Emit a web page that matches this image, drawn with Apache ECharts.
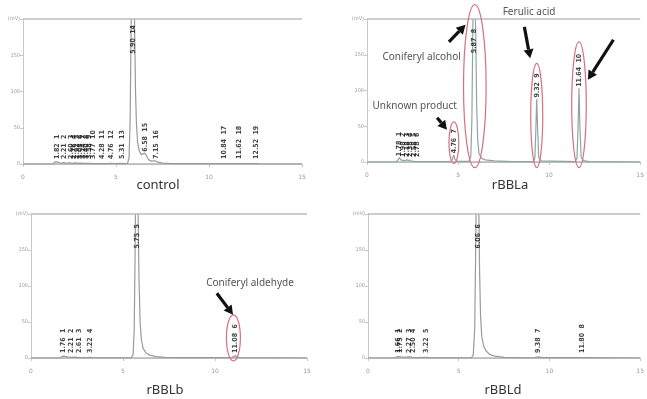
<!DOCTYPE html>
<html><head><meta charset="utf-8">
<script src="https://cdn.jsdelivr.net/npm/echarts@6/dist/echarts.min.js"></script>
<style>html,body{margin:0;padding:0;background:#fff}#c{width:647px;height:399px}</style>
</head><body><div id="c"></div>
<script>
// ---------- data ----------
const panelNames = ['control', 'rBBLa', 'rBBLb', 'rBBLd'];
const yUnit = 'mV';
const yMax = 200;
const xMax = 15;

// chromatogram traces [time (min), signal]
const ctrlTrace = [[0,0],[1.6,0],[1.72,3],[1.8,1.5],[1.9,2.5],[2.05,1],[2.2,2],[2.35,1],[2.5,1.5],[2.65,0.8],[2.8,1.5],[2.95,0.8],[3.1,1.2],[3.3,0.8],[3.5,1],[3.8,0.5],[4.2,0.5],[4.3,1],[4.5,0.5],[4.75,1],[4.9,0.5],[5.3,0.8],[5.5,0.5],[5.62,1],[5.7,8],[5.76,60],[5.81,180],[5.86,300],[5.92,320],[5.97,250],[6.01,170],[6.05,100],[6.1,55],[6.16,30],[6.25,18],[6.35,13],[6.45,13],[6.55,15],[6.63,12],[6.75,6],[6.9,4],[7.1,4.5],[7.25,2.5],[7.5,1.2],[8,0.5],[10.8,0.5],[10.9,1],[11.0,0.5],[11.6,0.5],[11.7,1],[11.8,0.5],[12.5,0.5],[12.6,0.8],[12.7,0.3],[15,0]];
const aTrace = [[0,0],[1.6,0],[1.7,3],[1.78,6],[1.86,3],[1.95,4],[2.05,2],[2.2,3],[2.4,1.5],[2.6,1],[3,0.5],[4.55,0.5],[4.68,3],[4.76,10],[4.84,3],[4.95,1],[5.6,1],[5.7,8],[5.76,60],[5.81,180],[5.86,300],[5.92,300],[5.97,180],[6.02,80],[6.08,30],[6.15,12],[6.3,5],[6.5,3],[7,1.5],[8,0.5],[9.15,0.5],[9.22,6],[9.27,45],[9.32,88],[9.37,45],[9.43,6],[9.55,1.5],[11.45,0.5],[11.53,6],[11.59,50],[11.64,103],[11.69,50],[11.76,6],[11.9,2],[12.2,0.5],[15,0]];
const bTrace = [[0,0],[1.6,0],[1.72,2.5],[1.8,1],[2.0,1.5],[2.2,1],[2.4,1.2],[2.6,0.5],[3.1,0.5],[3.22,1],[3.4,0.3],[5.45,0.3],[5.55,5],[5.61,40],[5.66,150],[5.7,290],[5.76,300],[5.82,200],[5.87,110],[5.93,50],[6.0,25],[6.1,13],[6.25,7],[6.45,4],[6.8,2],[7.3,1],[8,0.5],[10.9,0.5],[11.0,1.5],[11.08,3],[11.16,1.5],[11.3,0.5],[15,0]];
const dTrace = [[0,0],[1.5,0],[1.62,2],[1.7,3],[1.8,1.5],[2.0,1],[2.3,1.5],[2.45,1],[2.7,0.5],[3.22,1],[3.45,0.3],[5.7,0.3],[5.8,4],[5.88,40],[5.94,160],[5.99,300],[6.06,300],[6.11,200],[6.15,120],[6.2,60],[6.27,30],[6.37,17],[6.5,10],[6.7,5],[7,2.5],[7.5,1],[8.5,0.3],[9.2,0.5],[9.38,1.5],[9.6,0.5],[11.7,0.5],[11.8,2],[11.9,0.5],[15,0]];

// peak tables: retention time, apex height, peak number
const ctrlPeakT = [1.82,2.21,2.60,2.76,2.92,3.08,3.24,3.40,3.58,3.77,4.28,4.76,5.31,5.90,6.58,7.15,10.84,11.62,12.52];
const ctrlPeakH = [3,2,1.5,1.5,1,1,1,1,1,0.5,1,1,0.8,320,15,4.5,1,1,0.8];
const ctrlPeakNo = [1,2,3,4,5,6,7,8,9,10,11,12,13,14,15,16,17,18,19];

const aPeakT = [1.78,1.98,2.18,2.38,2.58,2.78,4.76,5.87,9.32,11.64];
const aPeakH = [6,4,3,2,1.5,1,10,300,88,103];
const aPeakNo = [1,2,3,4,5,6,7,8,9,10];

const bPeakT = [1.76,2.21,2.61,3.22,5.75,11.08];
const bPeakH = [2.5,1.5,1,1,300,3];
const bPeakNo = [1,2,3,4,5,6];

const dPeakT = [1.66,1.75,2.27,2.50,3.22,6.06,9.38,11.80];
const dPeakH = [3,2,1.5,1,1,300,1.5,2];
const dPeakNo = [1,2,3,4,5,6,7,8];

const traces = [ctrlTrace, aTrace, bTrace, dTrace];
const peakTs = [ctrlPeakT, aPeakT, bPeakT, dPeakT];
const peakHs = [ctrlPeakH, aPeakH, bPeakH, dPeakH];
const peakNos = [ctrlPeakNo, aPeakNo, bPeakNo, dPeakNo];

// ---------- layout ----------
const grids = [
  {left: 23, right: 345, top: 19, bottom: 235},
  {left: 367, right: 2, top: 19, bottom: 237},
  {left: 31, right: 340, top: 214, bottom: 41},
  {left: 368, right: 5, top: 214, bottom: 41}
];
const titlePos = [[158, 185], [510, 185], [165, 390], [503, 390]];
const traceColors = ['#9a9a9a', '#8fa5a5', '#9a9a9a', '#9a9a9a'];

const chart = echarts.init(document.getElementById('c'), null, {renderer: 'canvas'});

const xAxes = [], yAxes = [], series = [];
grids.forEach((g, i) => {
  xAxes.push({
    gridIndex: i, type: 'value', min: 0, max: xMax, interval: 5, offset: 4,
    axisLine: {lineStyle: {color: '#c8c8c8', width: 1}},
    axisTick: {show: true, length: 3, lineStyle: {color: '#c8c8c8'}},
    axisLabel: {fontSize: 6, color: '#999', margin: 6, fontFamily: 'DejaVu Sans'},
    splitLine: {show: false}
  });
  yAxes.push({
    gridIndex: i, type: 'value', min: 0, max: yMax, interval: 50,
    axisLine: {show: true, lineStyle: {color: '#c8c8c8', width: 1}},
    axisTick: {show: true, length: 3, lineStyle: {color: '#c8c8c8'}},
    axisLabel: {fontSize: 5, color: '#999', margin: 3, fontFamily: 'DejaVu Sans',
      formatter: v => v === yMax ? '(' + yUnit + ')' : String(v)},
    splitLine: {show: false}
  });
  series.push({
    type: 'line', xAxisIndex: i, yAxisIndex: i, data: traces[i],
    showSymbol: false, symbol: 'none', clip: true,
    lineStyle: {color: traceColors[i], width: 1.2},
    z: 2,
    markLine: {
      silent: true, symbol: 'none', label: {show: false},
      lineStyle: {color: '#bdbdbd', width: 1.5, type: 'solid'},
      data: [{yAxis: yMax}]
    }
  });
  // detector zero line
  series.push({
    type: 'line', xAxisIndex: i, yAxisIndex: i,
    data: [[0, 0], [xMax, 0]], showSymbol: false, symbol: 'none',
    lineStyle: {color: '#b5b5b5', width: 1.3}, z: 1
  });
  const lbl = peakTs[i].map((t, k) => [t, Math.min(Math.max(peakHs[i][k], 5), 150),
    t.toFixed(2) + '  ' + peakNos[i][k]]);
  series.push({
    type: 'scatter', xAxisIndex: i, yAxisIndex: i, data: lbl,
    symbolSize: 1, itemStyle: {color: 'rgba(0,0,0,0)'}, z: 5,
    label: {
      show: true, formatter: p => p.value[2], rotate: 90, position: 'top', distance: 1,
      align: 'left', verticalAlign: 'middle',
      fontSize: 7, fontWeight: 'bold', color: '#111', fontFamily: 'DejaVu Sans Condensed'
    }
  });
});

chart.setOption({
  animation: false,
  backgroundColor: '#fff',
  grid: grids,
  xAxis: xAxes,
  yAxis: yAxes,
  series: series
});

// ---------- annotations (placed in data coordinates) ----------
const annotations = [
  {grid: 1,
   ellipses: [[4.77, 27, 0.27, 29], [5.92, 106, 0.62, 114], [9.32, 65, 0.33, 73], [11.64, 80, 0.4, 88]],
   arrows: [[4.5, 168, 5.41, 192], [8.64, 189, 8.96, 145], [13.53, 171, 12.13, 115], [3.85, 62, 4.39, 45]],
   texts: [['Coniferyl alcohol', 3.0, 147], ['Ferulic acid', 8.9, 210], ['Unknown product', 2.62, 78]]},
  {grid: 2,
   ellipses: [[11.0, 28, 0.38, 32]],
   arrows: [[10.1, 90, 10.98, 60]],
   texts: [['Coniferyl aldehyde', 11.9, 104]]}
];

const els = [];
function arrowEls(a, b) {
  const dx = b[0] - a[0], dy = b[1] - a[1], L = Math.hypot(dx, dy);
  const ux = dx / L, uy = dy / L, hl = 9, hw = 5;
  const base = [b[0] - ux * hl, b[1] - uy * hl];
  const px = -uy, py = ux;
  return [
    {type: 'line', shape: {x1: a[0], y1: a[1], x2: base[0], y2: base[1]}, style: {stroke: '#111', lineWidth: 3.2}, z: 10},
    {type: 'polygon', shape: {points: [[b[0], b[1]], [base[0] + px * hw, base[1] + py * hw], [base[0] - px * hw, base[1] - py * hw]]}, style: {fill: '#111'}, z: 10}
  ];
}
annotations.forEach(an => {
  const f = p => chart.convertToPixel({gridIndex: an.grid}, p);
  an.ellipses.forEach(e => {
    const c = f([e[0], e[1]]);
    const r = f([e[0] + e[2], e[1] + e[3]]);
    els.push({type: 'ellipse', shape: {cx: c[0], cy: c[1], rx: Math.abs(r[0] - c[0]), ry: Math.abs(c[1] - r[1])},
      style: {stroke: '#d8707c', lineWidth: 1.2, fill: null}, z: 9});
  });
  an.arrows.forEach(a => { els.push(...arrowEls(f([a[0], a[1]]), f([a[2], a[3]]))); });
  an.texts.forEach(t => {
    const p = f([t[1], t[2]]);
    els.push({type: 'text', x: p[0], y: p[1], z: 10,
      style: {text: t[0], align: 'center', verticalAlign: 'middle', textAlign: 'center', textVerticalAlign: 'middle',
        fontSize: 10, fontFamily: 'Noto Sans', fill: '#555'}});
  });
});
panelNames.forEach((n, i) => {
  els.push({type: 'text', x: titlePos[i][0], y: titlePos[i][1], z: 10,
    style: {text: n, align: 'center', verticalAlign: 'middle', textAlign: 'center', textVerticalAlign: 'middle',
      fontSize: 13, fontFamily: 'Noto Sans', fill: '#333'}});
});
chart.setOption({graphic: {elements: els}});
</script>
</body></html>
